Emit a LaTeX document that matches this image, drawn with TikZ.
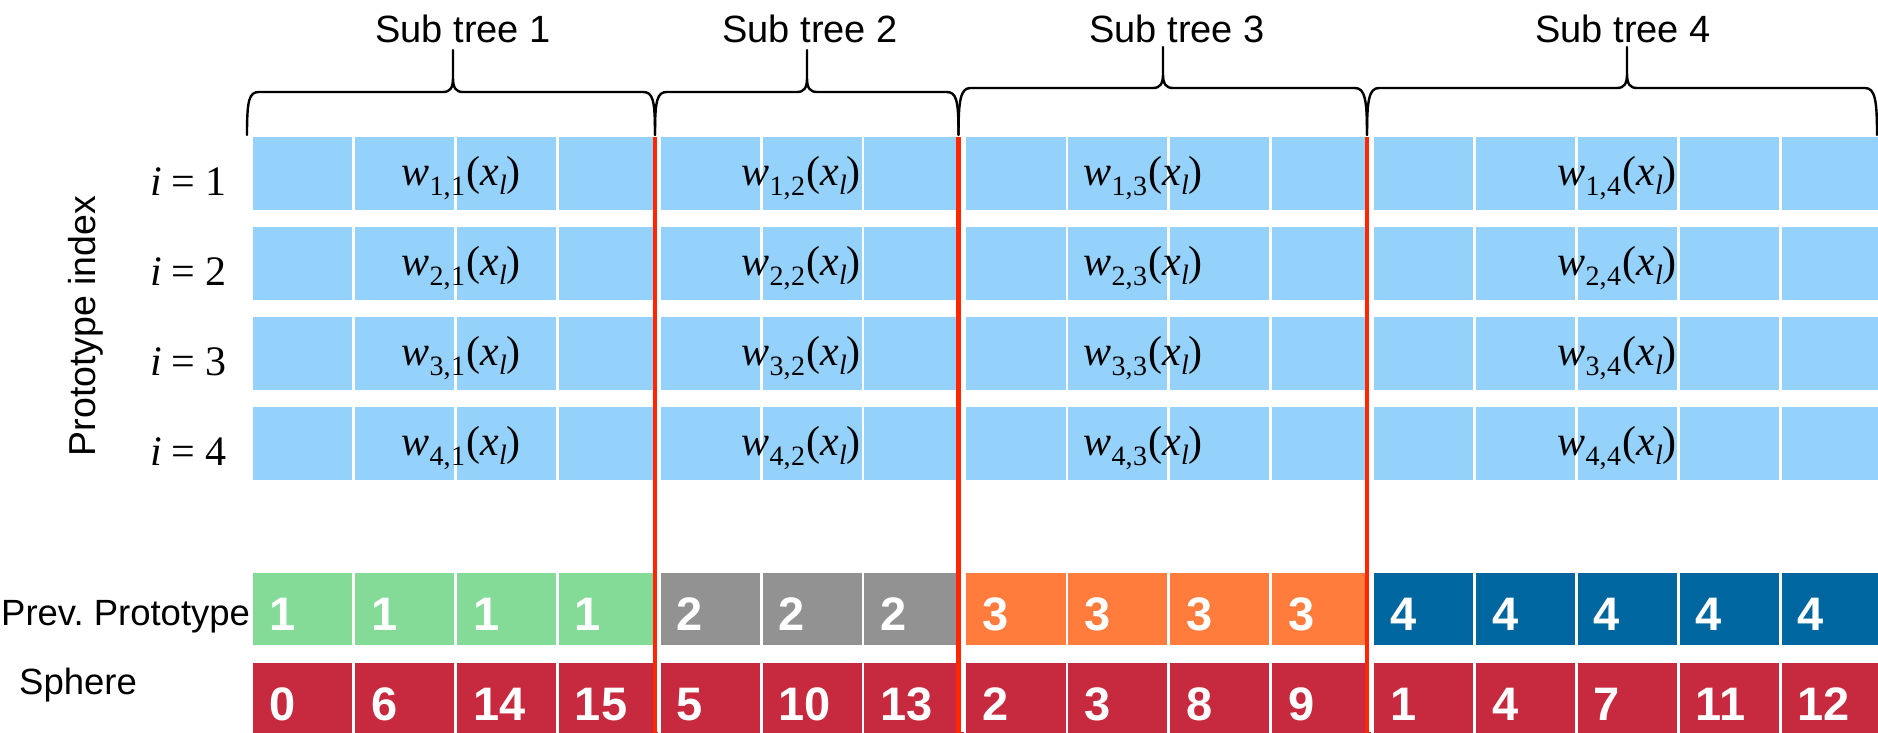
\documentclass[tikz,border=0pt]{standalone}
\usepackage{fontspec}
\setmainfont{Liberation Sans}
\newfontfamily\tnr{Liberation Serif}

\definecolor{wblue}{RGB}{148,209,251}
\definecolor{pgreen}{RGB}{132,219,152}
\definecolor{pgray}{RGB}{146,146,146}
\definecolor{porange}{RGB}{255,124,61}
\definecolor{pnavy}{RGB}{0,102,160}
\definecolor{sphred}{RGB}{199,41,63}
\definecolor{cutred}{RGB}{255,38,0}

% weight label w_{i,j}(x_l) set in a Times-like face
\newcommand{\wlab}[2]{{\tnr\fontsize{42}{42}\selectfont
  \textit{w}\kern0.5pt\raisebox{-10pt}{\fontsize{28}{28}\selectfont#1,\kern0.5pt#2}\kern1.5pt(\textit{x}\raisebox{-9pt}{\fontsize{28}{28}\selectfont\textit{l}})}}
% prototype index label i = k
\newcommand{\ilab}[1]{{\tnr\fontsize{42}{42}\selectfont\textit{i}\kern10pt=\kern10pt#1}}

% curly brace over a sub tree: left end, tip, right end, bar height, tip height
\newcommand{\subbrace}[5]{%
  \draw[bracestyle] (#1,135) .. controls (#1,100) and (#1+2,#4) .. (#1+12,#4)
    -- (#2-10,#4) .. controls (#2-3,#4) and (#2,#4-4) .. (#2,#4-14) -- (#2,#5)
    (#2,#4-14) .. controls (#2,#4-4) and (#2+3,#4) .. (#2+10,#4)
    -- (#3-12,#4) .. controls (#3-2,#4) and (#3,100) .. (#3,135);}

\begin{document}
\begin{tikzpicture}[x=1pt,y=-1pt,
  cell/.style={rectangle, inner sep=0pt, outer sep=0pt, minimum width=99.2pt, anchor=north west},
  wcell/.style={cell, fill=wblue, minimum height=72.5pt},
  pcell/.style={cell, minimum height=71.5pt},
  scell/.style={cell, fill=sphred, minimum height=76pt},
  numtxt/.style={text=white, inner sep=0pt, anchor=base west, font=\fontsize{47}{47}\selectfont\bfseries},
  lab/.style={inner sep=0pt, font=\fontsize{36.5}{38}\selectfont},
  treelab/.style={inner sep=0pt, anchor=base, font=\fontsize{38}{40}\selectfont},
  bracestyle/.style={line width=2.4pt, line cap=round, line join=round},
  redline/.style={draw=cutred, line width=4.5pt}]
\useasboundingbox (0,0) rectangle (1878,732);
\clip (0,0) rectangle (1878,732);

% weight rows, one per prototype
\foreach \r in {0,...,3} {
  \foreach \k in {0,...,15} {
    \node[wcell] (w-\r-\k) at ({253+\k*101.9},{137+\r*90}) {};
  }
}

% previous prototype and sphere rows
\foreach \k/\p/\s/\c in {0/1/0/pgreen, 1/1/6/pgreen, 2/1/14/pgreen, 3/1/15/pgreen,
    4/2/5/pgray, 5/2/10/pgray, 6/2/13/pgray,
    7/3/2/porange, 8/3/3/porange, 9/3/8/porange, 10/3/9/porange,
    11/4/1/pnavy, 12/4/4/pnavy, 13/4/7/pnavy, 14/4/11/pnavy, 15/4/12/pnavy} {
  \node[pcell, fill=\c] (p-\k) at ({253+\k*101.9},573) {};
  \node[numtxt] (pn-\k) at ({269+\k*101.9},630) {\p};
  \node[scell] (s-\k) at ({253+\k*101.9},663) {};
  \node[numtxt] (sn-\k) at ({269+\k*101.9},720) {\s};
}

% weight labels
\foreach \r in {1,...,4} {
  \node[inner sep=0pt, anchor=base west] (i-\r) at (150,{195+(\r-1)*90}) {\ilab{\r}};
  \foreach \t/\cx in {1/461, 2/801, 3/1143, 4/1617} {
    \node[inner sep=0pt, anchor=base] (wl-\r-\t) at (\cx,{185+(\r-1)*90}) {\wlab{\r}{\t}};
  }
}

% sub tree boundaries
\foreach \rx/\bx in {655/660.6, 958.5/966.3, 1367/1373.9} {
  \fill[white] (\rx,137) rectangle (\bx,732);
  \draw[redline] (\rx,137) -- (\rx,733);
}

% braces and their titles
\subbrace{247}{453}{655}{92}{50}
\subbrace{655}{807}{958.5}{92}{50}
\subbrace{958.5}{1163}{1367}{88}{47}
\subbrace{1367}{1627}{1877}{88}{47}
\node[treelab] (t1) at (463,42) {Sub tree 1};
\node[treelab] (t2) at (810,42) {Sub tree 2};
\node[treelab] (t3) at (1177,42) {Sub tree 3};
\node[treelab] (t4) at (1623,42) {Sub tree 4};

% row captions
\node[lab, rotate=90, anchor=base, font=\fontsize{37.5}{39}\selectfont] (protolab) at (95,326) {Prototype index};
\node[lab, anchor=base west] (prevlab) at (1,625) {Prev.\ Prototype};
\node[lab, anchor=base west] (spherelab) at (19,694) {Sphere};
\end{tikzpicture}
\end{document}
